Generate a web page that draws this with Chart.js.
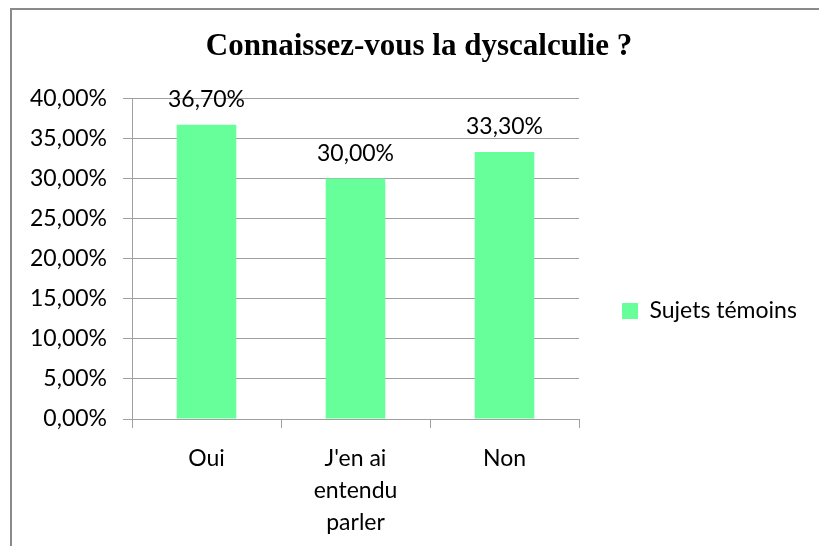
<!DOCTYPE html>
<html lang="fr">
<head>
<meta charset="utf-8">
<title>Connaissez-vous la dyscalculie ?</title>
<script src="https://cdn.jsdelivr.net/npm/chart.js@4.4.0/dist/chart.umd.min.js"></script>
<style>
    html, body { margin: 0; padding: 0; background: #fff; }
    #wrap { position: relative; width: 819px; height: 546px; overflow: hidden; }
    /* cadre gris du graphique (coupé à droite et en bas) */
    #frame {
        position: absolute; left: 10px; top: 8px; right: -20px; bottom: -20px;
        border-top: 2px solid #8a8a8a; border-left: 2px solid #8a8a8a;
    }
    #chart { position: absolute; left: 0; top: 0; }
</style>
</head>
<body>
<div id="wrap">
    <div id="frame"></div>
    <canvas id="chart" width="819" height="546"></canvas>
</div>
<script>
// données
const categories = ['Oui', ["J'en ai", 'entendu', 'parler'], 'Non'];
const seriesName = 'Sujets témoins';
const values = [36.7, 30.0, 33.3];
const yMin = 0, yMax = 40, yStep = 5;

const barColor = '#66FF99';
const gridColor = '#a0a0a0';
const textFont = 'Lato';
const legendPad = 70;     // marge de la légende
const legendWidth = 239;  // largeur réservée à droite de la zone de tracé

// 36.7 -> "36,70%"
function formatPct(v) {
    return Number(v).toFixed(2).replace('.', ',') + '%';
}

// étiquettes de valeur au-dessus des barres
const valueLabels = {
    id: 'valueLabels',
    afterDatasetsDraw(chart) {
        const ctx = chart.ctx;
        const meta = chart.getDatasetMeta(0);
        ctx.save();
        ctx.font = '23px ' + textFont;
        ctx.fillStyle = '#000';
        ctx.textAlign = 'center';
        ctx.textBaseline = 'middle';
        meta.data.forEach((bar, i) => {
            ctx.fillText(formatPct(chart.data.datasets[0].data[i]), bar.x, bar.y - 25);
        });
        ctx.restore();
    }
};

// place la légende comme dans Excel : carré à x=622, centrée vers y=311
const legendPlace = {
    id: 'legendPlace',
    afterLayout(chart) {
        const lg = chart.legend;
        const h = lg.height;
        lg.left = 622 - legendPad;
        lg.right = chart.width;
        lg.width = lg.right - lg.left;
        lg.top = 311 - h / 2;
        lg.bottom = lg.top + h;
    }
};

function initChart() {
    const ctx = document.getElementById('chart').getContext('2d');
    new Chart(ctx, {
        type: 'bar',
        data: {
            labels: categories,
            datasets: [{
                label: seriesName,
                data: values,
                backgroundColor: barColor,
                borderWidth: 0,
                barPercentage: 0.4,
                categoryPercentage: 1
            }]
        },
        options: {
            responsive: false,
            animation: false,
            devicePixelRatio: 1,
            layout: { padding: { left: 20, right: 1, top: 0, bottom: 0 } },
            plugins: {
                title: {
                    display: true,
                    text: 'Connaissez-vous la dyscalculie ?',
                    color: '#000',
                    font: { family: 'Liberation Serif', size: 31, weight: 'bold' },
                    padding: { top: 28, bottom: 33 }
                },
                legend: {
                    position: 'right',
                    maxWidth: legendWidth,
                    labels: {
                        boxWidth: 16,
                        boxHeight: 16,
                        color: '#000',
                        padding: legendPad,
                        font: { family: textFont, size: 23 }
                    }
                },
                tooltip: { enabled: false }
            },
            scales: {
                y: {
                    min: yMin,
                    max: yMax,
                    afterFit(scale) { scale.width = 112; },
                    ticks: {
                        stepSize: yStep,
                        padding: 16,
                        color: '#000',
                        font: { family: textFont, size: 23 },
                        callback: (v) => formatPct(v)
                    },
                    grid: { color: gridColor, tickLength: 9 },
                    border: { color: gridColor }
                },
                x: {
                    afterFit(scale) { scale.height = 127; },
                    ticks: {
                        color: '#000',
                        padding: 15,
                        font: { family: textFont, size: 23, lineHeight: '32px' }
                    },
                    grid: { color: gridColor, drawOnChartArea: false, tickLength: 9, offset: true },
                    border: { color: gridColor }
                }
            }
        },
        plugins: [valueLabels, legendPlace]
    });
}

document.addEventListener('DOMContentLoaded', initChart);
</script>
</body>
</html>
